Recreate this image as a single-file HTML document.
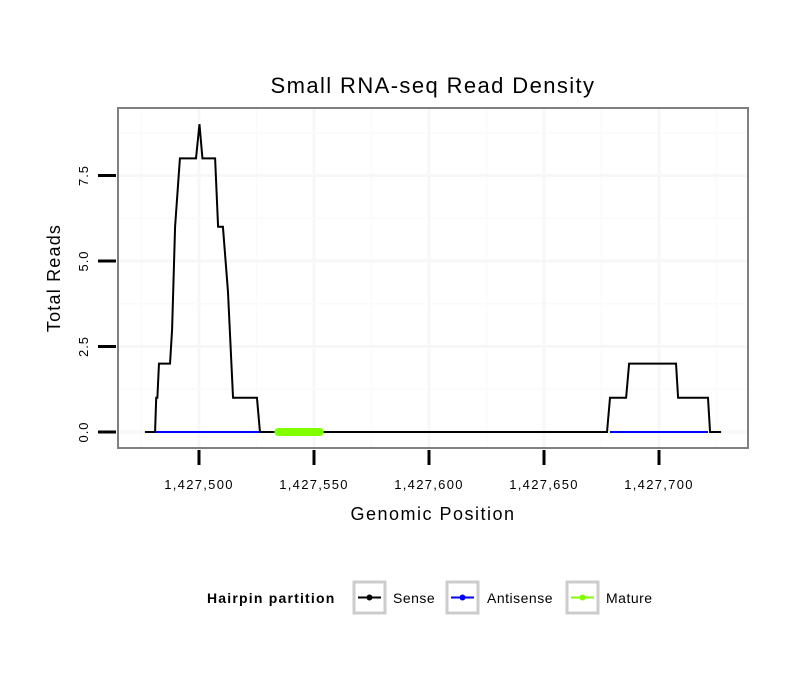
<!DOCTYPE html>
<html><head><meta charset="utf-8"><style>
body{margin:0;background:#fff}
svg{display:block;font-family:"Liberation Sans",sans-serif}
</style></head><body>
<svg id="chart" width="810" height="690" viewBox="0 0 810 690">
<text x="433" y="93" font-size="22" letter-spacing="1.4" text-anchor="middle">Small RNA-seq Read Density</text>
<rect x="118" y="108" width="630" height="340" fill="#fff" stroke="#808080" stroke-width="2"/>
<g id="grid"></g>
<g id="series"></g>
<g id="axes"></g>
<text x="433" y="520" font-size="18" letter-spacing="1.5" text-anchor="middle">Genomic Position</text>
<text transform="translate(60,278) rotate(-90)" font-size="18" letter-spacing="1.2" text-anchor="middle">Total Reads</text>
<g>
<text x="207" y="603" font-size="14" letter-spacing="1.2" font-weight="bold">Hairpin partition</text>
<g>
<rect x="354" y="582" width="31" height="31" fill="#fff" stroke="#ccc" stroke-width="3"/>
<line x1="358" y1="597.5" x2="381" y2="597.5" stroke="#000" stroke-width="2"/><circle cx="369.5" cy="597.5" r="3" fill="#000"/>
<text x="393" y="603" font-size="14" letter-spacing="0.5">Sense</text></g>
<g>
<rect x="447" y="582" width="31" height="31" fill="#fff" stroke="#ccc" stroke-width="3"/>
<line x1="451" y1="597.5" x2="474" y2="597.5" stroke="#00f" stroke-width="2"/><circle cx="462.5" cy="597.5" r="3" fill="#00f"/>
<text x="487" y="603" font-size="14" letter-spacing="0.5">Antisense</text></g>
<g>
<rect x="567" y="582" width="31" height="31" fill="#fff" stroke="#ccc" stroke-width="3"/>
<line x1="571" y1="597.5" x2="594" y2="597.5" stroke="#7fff00" stroke-width="2"/><circle cx="582.5" cy="597.5" r="3" fill="#7fff00"/>
<text x="606" y="603" font-size="14" letter-spacing="0.5">Mature</text></g>
</g>
</svg>
<script>
const xTicks=[1427500,1427550,1427600,1427650,1427700];
const xTickLabels=["1,427,500","1,427,550","1,427,600","1,427,650","1,427,700"];
const yTicks=[0,2.5,5,7.5];
const yTickLabels=["0.0","2.5","5.0","7.5"];
const sensePos=[1427476.5,1427480.9,1427481.4,1427481.9,1427482.6,1427487.4,1427488.3,1427489.6,1427491.7,1427498.7,1427500.2,1427501.5,1427507,1427508.3,1427510.4,1427512.6,1427514.8,1427525.2,1427526.5,1427677.4,1427678.7,1427685.7,1427687,1427707.4,1427708.3,1427721.3,1427722.2,1427727];
const senseVal=[0,0,1,1,2,2,3,6,8,8,9,8,8,6,6,4.1,1,1,0,0,1,1,2,2,1,1,0,0];
const antisenseRanges=[[1427481,1427526.5],[1427678.7,1427721.3]];
const matureRange=[1427534.5,1427552.5];
const X=v=>199+(v-1427500)*2.3;
const Y=v=>432-v*34.2;
const NS="http://www.w3.org/2000/svg";
function mk(tag,attrs,parent){const e=document.createElementNS(NS,tag);for(const k in attrs)e.setAttribute(k,attrs[k]);parent.appendChild(e);return e;}
const grid=document.getElementById('grid'),series=document.getElementById('series'),axes=document.getElementById('axes');
const xstep=xTicks[1]-xTicks[0], ystep=yTicks[1]-yTicks[0];
for(let i=-1;i<xTicks.length;i++){
  const mv=xTicks[Math.max(i,0)]+(i<0?-xstep/2:xstep/2);
  const mx=X(mv);
  if(mx>119&&mx<747){const g=mk('line',{x1:mx,x2:mx,y1:109,y2:447,stroke:'#fafafa','stroke-width':1.5},grid);
  
  }
}
xTicks.forEach((t,i)=>{
  const g=mk('line',{x1:X(t),x2:X(t),y1:109,y2:447,stroke:'#f7f7f7','stroke-width':3},grid);
  
  
  const tk=mk('line',{x1:X(t),x2:X(t),y1:450,y2:465,stroke:'#000','stroke-width':3},axes);
  
  
  const tl=mk('text',{x:X(t),y:489,'font-size':13,'letter-spacing':1.3,'text-anchor':'middle'},axes);
  tl.textContent=xTickLabels[i];
  
  
});
for(let i=0;i<yTicks.length;i++){
  const my=Y(yTicks[i]+ystep/2);
  if(my>109){const g=mk('line',{x1:119,x2:747,y1:my,y2:my,stroke:'#fafafa','stroke-width':1.5},grid);
  
  }
}
yTicks.forEach((t,i)=>{
  const g=mk('line',{x1:119,x2:747,y1:Y(t),y2:Y(t),stroke:'#f7f7f7','stroke-width':3},grid);
  
  
  const tk=mk('line',{x1:98,x2:116,y1:Y(t),y2:Y(t),stroke:'#000','stroke-width':3},axes);
  
  
  const tl=mk('text',{transform:`translate(88,${Y(t)}) rotate(-90)`,'font-size':13,'letter-spacing':1,'text-anchor':'middle'},axes);
  tl.textContent=yTickLabels[i];
  
  
});
const pts=sensePos.map((p,i)=>X(p)+','+Y(senseVal[i])).join(' ');
const sl=mk('polyline',{points:pts,fill:'none',stroke:'#000','stroke-width':2},series);


antisenseRanges.forEach(r=>{
  const a=mk('line',{x1:X(r[0]),x2:X(r[1]),y1:Y(0),y2:Y(0),stroke:'#00f','stroke-width':2},series);
  
  
});
const m=mk('line',{x1:X(matureRange[0]),x2:X(matureRange[1]),y1:Y(0),y2:Y(0),stroke:'#7fff00','stroke-width':8,'stroke-linecap':'round'},series);


</script>
</body></html>
